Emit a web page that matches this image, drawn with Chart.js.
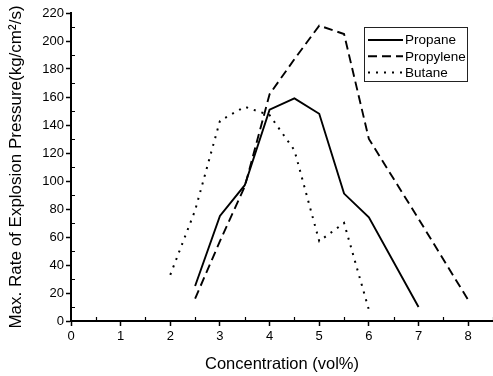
<!DOCTYPE html>
<html>
<head>
<meta charset="utf-8">
<script src="https://cdn.jsdelivr.net/npm/chart.js@4"></script>
<style>
  html, body { margin: 0; padding: 0; background: #fff; }
  #wrap { width: 493px; height: 376px; position: relative; }
</style>
</head>
<body>
<div id="wrap"><canvas id="c" width="493" height="376"></canvas></div>
<script>
// ---- data ----
const seriesNames = ["Propane", "Propylene", "Butane"];
const propaneX   = [2.5, 3, 3.5, 4, 4.5, 5, 5.5, 6, 7];
const propaneY   = [25, 75, 97, 151, 159, 148, 91, 74, 10];
const propyleneX = [2.5, 3, 3.5, 4, 4.5, 5, 5.5, 6, 7, 8];
const propyleneY = [16, 57, 96, 162, 187, 211, 205, 130, 73, 15];
const butaneX    = [2, 2.5, 3, 3.5, 4, 4.5, 5, 5.5, 6];
const butaneY    = [33, 79, 143, 153, 147, 122, 57, 70, 8];
const xTickValues = [0, 1, 2, 3, 4, 5, 6, 7, 8];
const yTickValues = [0, 20, 40, 60, 80, 100, 120, 140, 160, 180, 200, 220];

const FONT = '"Liberation Sans", Arial, Helvetica, sans-serif';
const pts = (xs, ys) => xs.map((x, i) => ({ x: x, y: ys[i] }));

const minorTicks = {
  id: 'minorTicks',
  afterDraw(chart) {
    const ctx = chart.ctx, xs = chart.scales.x, ys = chart.scales.y;
    const a = chart.chartArea;
    ctx.save();
    ctx.strokeStyle = '#000';
    ctx.lineWidth = 1.2;
    ctx.beginPath();
    for (let i = 0; i < yTickValues.length - 1; i++) {
      const v = (yTickValues[i] + yTickValues[i + 1]) / 2;
      const py = Math.round(ys.getPixelForValue(v)) + 0.5;
      ctx.moveTo(a.left, py); ctx.lineTo(a.left + 4, py);
    }
    for (let i = 0; i < xTickValues.length; i++) {
      const v = xTickValues[i] + 0.5;
      if (v > xs.max) continue;
      const px = Math.round(xs.getPixelForValue(v)) + 0.5;
      ctx.moveTo(px, a.bottom); ctx.lineTo(px, a.bottom - 4);
    }
    ctx.stroke();
    ctx.restore();
  }
};

const boxLegend = {
  id: 'boxLegend',
  afterDraw(chart, args, opts) {
    const ctx = chart.ctx;
    ctx.save();
    ctx.strokeStyle = '#222';
    ctx.lineWidth = 1;
    ctx.setLineDash([]);
    ctx.strokeRect(opts.left + 0.5, opts.top + 0.5, opts.width, opts.height);
    ctx.font = opts.fontSize + 'px ' + FONT;
    ctx.textBaseline = 'middle';
    ctx.fillStyle = '#000';
    chart.data.datasets.forEach((ds, i) => {
      const y = opts.top + opts.firstRow + i * opts.rowGap;
      ctx.beginPath();
      ctx.strokeStyle = ds.borderColor;
      ctx.lineWidth = ds.borderWidth;
      ctx.setLineDash(ds.borderDash || []);
      ctx.moveTo(opts.left + opts.lineStart, y);
      ctx.lineTo(opts.left + opts.lineEnd, y);
      ctx.stroke();
      ctx.setLineDash([]);
      ctx.fillText(ds.label, opts.left + opts.textStart, y + 0.5);
    });
    ctx.restore();
  }
};

new Chart(document.getElementById('c'), {
  type: 'scatter',
  data: {
    datasets: [
      { label: seriesNames[0], data: pts(propaneX, propaneY), showLine: true,
        borderColor: '#000', borderWidth: 1.9, pointRadius: 0, tension: 0 },
      { label: seriesNames[1], data: pts(propyleneX, propyleneY), showLine: true,
        borderColor: '#000', borderWidth: 1.9, borderDash: [9, 5], pointRadius: 0, tension: 0 },
      { label: seriesNames[2], data: pts(butaneX, butaneY), showLine: true,
        borderColor: '#000', borderWidth: 2, borderDash: [2, 6], pointRadius: 0, tension: 0 }
    ]
  },
  options: {
    responsive: false,
    animation: false,
    layout: { padding: { top: 13, right: 0, bottom: 0, left: 0 } },
    plugins: {
      legend: { display: false },
      tooltip: { enabled: false },
      boxLegend: { left: 364, top: 27, width: 103, height: 54, fontSize: 13.5,
                   firstRow: 13, rowGap: 16.3, lineStart: 4, lineEnd: 39, textStart: 41 }
    },
    scales: {
      x: {
        type: 'linear', min: 0, max: 8.5,
        afterFit(s) { s.height = 55; },
        afterBuildTicks(s) { s.ticks = xTickValues.map(v => ({ value: v })); },
        ticks: { color: '#000', font: { family: FONT, size: 13 }, padding: 3,
                 callback: v => String(v), maxRotation: 0, autoSkip: false },
        grid: { drawOnChartArea: false, drawTicks: true, tickLength: 5, tickWidth: 1.5, tickColor: '#000' },
        border: { display: true, color: '#000', width: 2 },
        title: { display: true, text: 'Concentration (vol%)', color: '#000',
                 font: { family: FONT, size: 16.5 }, padding: { top: 0, bottom: 2 } }
      },
      y: {
        type: 'linear', min: 0, max: 220,
        afterFit(s) { s.width = 71; },
        afterBuildTicks(s) { s.ticks = yTickValues.map(v => ({ value: v })); },
        ticks: { color: '#000', font: { family: FONT, size: 13 }, padding: 2,
                 callback: v => String(v), autoSkip: false },
        grid: { drawOnChartArea: false, drawTicks: true, tickLength: 5, tickWidth: 1.5, tickColor: '#000' },
        border: { display: true, color: '#000', width: 2 },
        title: { display: true, text: 'Max. Rate of Explosion Pressure(kg/cm\u00B2/s)', color: '#000',
                 font: { family: FONT, size: 17 }, padding: { top: 6.5, bottom: 0 } }
      }
    }
  },
  plugins: [minorTicks, boxLegend]
});
</script>
</body>
</html>
